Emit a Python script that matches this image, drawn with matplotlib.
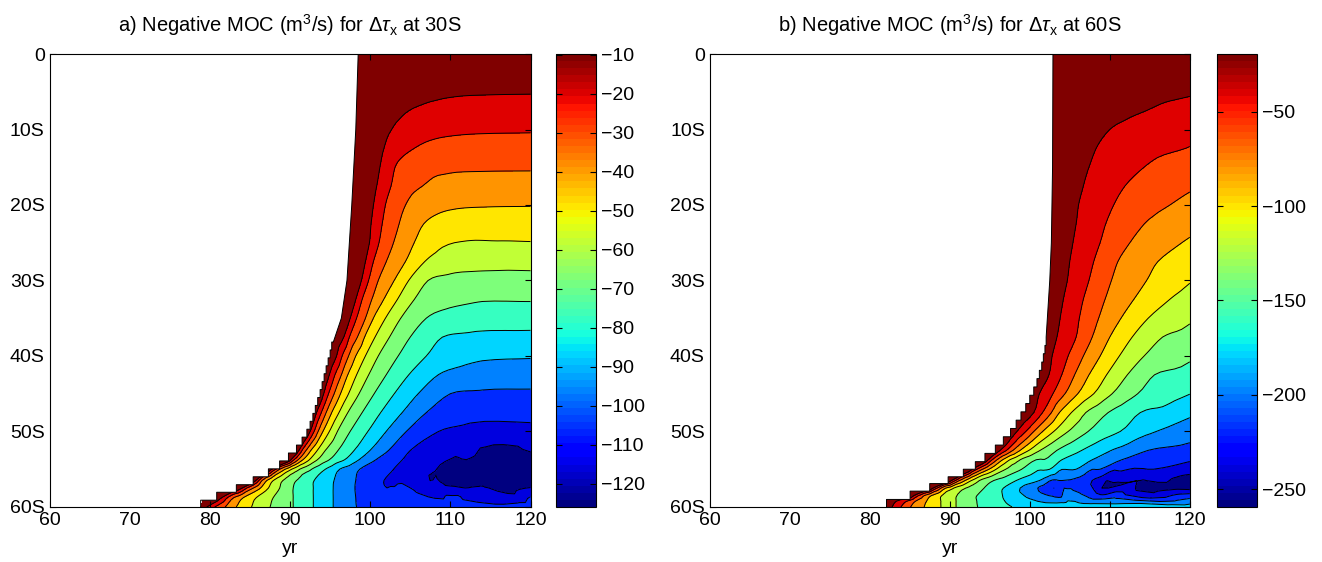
import numpy as np
import matplotlib
matplotlib.use("Agg")
import matplotlib.pyplot as plt
import matplotlib.tri as mtri
from matplotlib.cm import ScalarMappable
from matplotlib.colors import Normalize

plt.rcParams.update({
    "font.family": ["Liberation Sans", "DejaVu Sans"],
    "font.size": 14,
    "mathtext.fontset": "custom",
    "mathtext.rm": "Liberation Sans",
    "mathtext.it": "Liberation Sans:italic",
    "axes.linewidth": 0.8,
    "xtick.direction": "in",
    "ytick.direction": "in",
    "xtick.top": True,
    "ytick.right": True,
    "xtick.major.size": 4,
    "ytick.major.size": 4,
})

N_BANDS = 13

# ---- panel a: dtau_x at 30S ----
# each latitude row is sampled at (year, value) points read off the figure
LAT_A = [0, 5, 7.5, 10, 12.5, 15, 17.5, 20, 22.5, 25, 27.5, 30, 32.5, 35, 37.5,
         40, 42.5, 45, 47.5, 50, 52.5, 53.75, 55, 56.5, 57.5, 58.75, 60]
YR_A = [
    [98.5, 105, 112, 120],
    [98.4, 100, 102, 104, 106, 108, 110, 114, 120],
    [98.3, 100, 102, 104.8, 108, 112, 120],
    [98.2, 100, 102, 104, 106, 108, 110, 114, 120],
    [98.05, 100, 101.7, 103.5, 105.5, 108, 112, 120],
    [97.9, 99.5, 101.2, 102, 103.1, 104, 106, 108, 110, 114, 120],
    [97.75, 99.3, 100.8, 102.6, 104.5, 106.5, 109, 113, 120],
    [97.6, 99, 100.4, 101.9, 103, 104.4, 106, 108, 110, 114, 120],
    [97.45, 100.1, 101.5, 103.6, 105, 106.7, 109, 113, 120],
    [97.3, 99.9, 101.1, 102.9, 104, 105.5, 107, 109, 112, 116, 120],
    [97.15, 99.4, 100.4, 102.0, 104.4, 106.8, 109, 113, 120],
    [97.0, 98.9, 99.8, 101.0, 103.0, 104.8, 107.2, 110, 114, 120],
    [96.75, 98.2, 99.0, 100.2, 101.7, 103.4, 105.5, 108, 112, 120],
    [96.4, 97.5, 98.3, 99.4, 100.4, 101.9, 103.8, 107.0, 110, 114, 120],
    [95.65, 96.7, 97.4, 98.4, 99.3, 100.6, 102.4, 105.0, 109, 113, 120],
    [95.0, 95.8, 96.5, 97.3, 98.2, 99.4, 101.0, 103.5, 107, 110, 114, 120],
    [94.25, 94.9, 95.6, 96.4, 97.2, 98.3, 99.8, 102.0, 104.8, 108.5, 112, 120],
    [93.7, 94.2, 94.8, 95.5, 96.3, 97.3, 98.6, 100.5, 103.0, 106.0, 110.0, 114, 120],
    [92.85, 93.3, 93.9, 94.5, 95.2, 96.1, 97.2, 99.0, 101.3, 104.0, 107.0, 111, 120],
    [92.1, 92.5, 93.0, 93.5, 94.1, 94.9, 95.9, 97.5, 99.7, 102.0, 104.5, 108.5, 112, 120],
    [90.8, 91.1, 91.5, 92.0, 92.6, 93.4, 94.4, 96.0, 98.0, 100.0, 102.3, 105.0, 110, 120],
    [89.8, 90.1, 90.5, 91.0, 91.6, 92.4, 93.4, 94.9, 96.8, 98.6, 100.7, 104.0, 108, 112, 120],
    [87.3, 87.7, 88.2, 88.7, 89.4, 90.2, 91.2, 92.7, 94.4, 96.2, 98.7, 102.9, 108.3, 112, 116, 120],
    [85.4, 85.7, 86.1, 86.5, 87.1, 87.9, 89.1, 90.8, 93.0, 95.5, 98.2, 101.7, 107.5, 112, 116, 120],
    [83.3, 84.0, 84.6, 85.4, 86.3, 87.3, 88.7, 90.4, 92.9, 95.4, 98.1, 102.1, 108, 114, 120],
    [80.85, 81.5, 82.2, 83.0, 84.2, 85.8, 87.9, 90.4, 92.9, 95.4, 98.2, 105, 110, 120],
    [78.85, 79.6, 80.6, 81.9, 83.3, 85.2, 87.5, 90.4, 92.9, 95.4, 98.3, 104, 110, 120],
]
MOC_A = [
    [-9.9, -10.2, -10.4, -10.5],
    [-11, -11.5, -12.5, -14, -15.8, -16.8, -17.5, -18.0, -18.2],
    [-11.5, -13, -15.5, -18.7, -21.0, -22.2, -22.6],
    [-12, -14.5, -17.5, -21, -23.8, -25.3, -26.1, -26.7, -26.9],
    [-11.5, -15, -18.7, -24, -27.7, -30, -31, -31.3],
    [-11.5, -14.5, -18.7, -22, -27.7, -30.5, -33.5, -34.8, -35.3, -35.6, -35.7],
    [-11.5, -15, -18.7, -27.7, -33.5, -36.6, -39, -40.2, -40.5],
    [-11.5, -15, -18.7, -27.7, -32.5, -36.6, -40.5, -43, -44.3, -45.0, -45.2],
    [-11.5, -18.7, -27.7, -36.6, -41.5, -45.6, -48.5, -50.0, -50.2],
    [-11.5, -18.7, -27.7, -36.6, -40.5, -45.6, -49.5, -53.3, -55.0, -55.0, -54.8],
    [-11.5, -18.7, -27.7, -36.6, -45.6, -54.5, -58.5, -60.5, -60.8],
    [-11.5, -18.7, -27.7, -36.6, -45.6, -54.5, -63.4, -65.5, -66.3, -66.2],
    [-11.5, -18.7, -27.7, -36.6, -45.6, -54.5, -63.4, -68.5, -71.0, -71.7],
    [-11.5, -18.7, -27.7, -36.6, -45.6, -54.5, -63.4, -72.4, -75.5, -77.3, -77.6],
    [-11.5, -18.7, -27.7, -36.6, -45.6, -54.5, -63.4, -72.4, -81.3, -83.0, -83.4],
    [-11.5, -18.7, -27.7, -36.6, -45.6, -54.5, -63.4, -72.4, -81.3, -86.0, -88.8, -89.5],
    [-11.5, -18.7, -27.7, -36.6, -45.6, -54.5, -63.4, -72.4, -81.3, -90.3, -93.5, -95.0],
    [-11.5, -18.7, -27.7, -36.6, -45.6, -54.5, -63.4, -72.4, -81.3, -90.3, -99.2, -100.3, -100.5],
    [-11.5, -18.7, -27.7, -36.6, -45.6, -54.5, -63.4, -72.4, -81.3, -90.3, -99.2, -104.0, -105.5],
    [-11.5, -18.7, -27.7, -36.6, -45.6, -54.5, -63.4, -72.4, -81.3, -90.3, -99.2, -108.1, -110.3, -110.6],
    [-11.5, -18.7, -27.7, -36.6, -45.6, -54.5, -63.4, -72.4, -81.3, -90.3, -99.2, -108.1, -114.5, -116.5],
    [-11.5, -18.7, -27.7, -36.6, -45.6, -54.5, -63.4, -72.4, -81.3, -90.3, -99.2, -108.1, -114, -117.1, -120.5],
    [-11.5, -18.7, -27.7, -36.6, -45.6, -54.5, -63.4, -72.4, -81.3, -90.3, -99.2, -108.1, -117.1, -122, -125, -124.5],
    [-11.5, -18.7, -27.7, -36.6, -45.6, -54.5, -63.4, -72.4, -81.3, -90.3, -99.2, -108.1, -117.1, -122.5, -125.5, -124.5],
    [-11.5, -18.7, -27.7, -36.6, -45.6, -54.5, -63.4, -72.4, -81.3, -90.3, -99.2, -108.1, -114, -116, -116.5],
    [-11.5, -18.7, -27.7, -36.6, -45.6, -54.5, -63.4, -72.4, -81.3, -90.3, -99.2, -104.5, -106.5, -107.5],
    [-11.5, -18.7, -27.7, -36.6, -45.6, -54.5, -63.4, -72.4, -81.3, -90.3, -99.2, -102.5, -104, -104],
]
RANGE_A = (-126.0, -9.8)
# arrival front: smooth part, then the staircase of the model grid
FRONT_LAT_A = [0, 10, 20, 30, 35, 38.15]
FRONT_YR_A = [98.5, 98.2, 97.7, 97.1, 96.4, 95.4]
STEP_LAT_A = [38.15, 39.2, 40.25, 41.3, 42.35, 43.4, 44.45, 45.5, 46.55, 47.6, 48.65,
              49.7, 50.75, 51.8, 52.85, 53.9, 54.95, 56.0, 57.05, 58.05, 59.1, 60]
STEP_YR_A = [95.2, 95.0, 94.75, 94.5, 94.25, 94.0, 93.75, 93.45, 93.15, 92.85,
             92.5, 92.1, 91.5, 90.8, 89.8, 88.7, 87.3, 85.4, 83.3, 80.85, 78.85]
CTICKS_A = [-120, -110, -100, -90, -80, -70, -60, -50, -40, -30, -20, -10]

# ---- panel b: dtau_x at 60S ----
LAT_B = [0, 2.5, 5, 7.5, 10, 12.5, 15, 17.5, 20, 22.5, 25, 27.5, 30, 32.5, 35, 37.5,
         40, 42.5, 45, 47.5, 50, 52.5, 53.75, 55, 56.5, 57.5, 58.5, 59.25, 60]
YR_B = [
    [102.9, 110, 120],
    [102.9, 110, 115, 120],
    [102.9, 106, 110, 114, 117, 120],
    [102.9, 106, 110, 114.6, 117, 120],
    [102.9, 106, 110, 114, 117, 120],
    [102.9, 105, 108.3, 111, 115, 119.5, 120],
    [102.85, 105, 107.4, 110, 114.3, 117, 120],
    [102.8, 104.5, 106.7, 109, 111.9, 116, 120],
    [102.8, 104.5, 106.1, 108.3, 110.5, 114, 117.5, 120],
    [102.75, 105.8, 109.5, 114.3, 117, 120],
    [102.7, 105.4, 108.8, 112.5, 116, 119, 120],
    [102.6, 105.0, 108.0, 111.0, 116.0, 120],
    [102.5, 104.7, 107.4, 110.2, 114.6, 117.5, 120],
    [102.35, 104.2, 106.7, 109.4, 113.0, 117.5, 120],
    [102.2, 103.8, 106.2, 108.6, 111.4, 114.8, 117.5, 120],
    [102.0, 103.4, 105.8, 107.8, 110.0, 112.8, 116.6, 120],
    [101.7, 102.8, 104.8, 106.7, 108.8, 111.2, 114.3, 117.5, 120],
    [101.2, 102.4, 104.0, 105.6, 107.4, 109.6, 112.2, 115.6, 120],
    [100.2, 101.2, 102.9, 104.4, 106.0, 108.0, 110.3, 113.5, 117, 120],
    [98.9, 100.5, 101.6, 102.7, 103.7, 105.2, 107.0, 109.8, 113.8, 120],
    [97.5, 98.4, 99.5, 100.5, 101.6, 103.0, 104.8, 107.3, 111.3, 115.8, 120],
    [95.7, 96.3, 97.1, 97.9, 98.8, 99.9, 101.3, 103.4, 106.5, 110.2, 114.8, 120],
    [94.4, 94.8, 95.3, 95.9, 96.6, 97.5, 98.8, 100.8, 104.0, 107.8, 111.5, 120],
    [92.4, 92.8, 93.4, 94.1, 94.9, 95.8, 97.0, 99.0, 102.5, 105.8, 108.8, 115.5, 120],
    [89.8, 90.2, 90.7, 91.2, 91.9, 92.7, 93.7, 95.5, 98.3, 101.2, 104.0, 107.8, 113.5, 120],
    [87.5, 87.9, 88.4, 88.9, 89.5, 90.5, 92.0, 94.3, 96.7, 98.8, 101.0, 103.0, 109, 114, 120],
    [85.05, 85.5, 86.1, 86.8, 87.7, 89.0, 90.9, 93.4, 96.6, 99.3, 102.4, 108, 120],
    [82.1, 83.3, 84.6, 85.7, 87.1, 88.9, 90.8, 93.4, 96.9, 101, 110, 120],
    [82.1, 82.8, 83.9, 85.1, 86.8, 88.9, 90.8, 93.5, 97.8, 105, 120],
]
MOC_B = [
    [-19.4, -19.6, -19.8],
    [-20, -23.5, -26, -28],
    [-20.5, -23.5, -28, -32, -34.5, -36],
    [-21, -25.5, -32, -37.8, -40.5, -43],
    [-21, -27, -37.8, -44, -47.5, -50],
    [-21, -25, -37.8, -45, -51.5, -56.3, -57],
    [-21, -28, -37.8, -45.5, -56.3, -61.5, -65.5],
    [-21, -27, -37.8, -47, -56.3, -66.5, -72.5],
    [-21, -29, -37.8, -47, -56.3, -67, -74.7, -80],
    [-21, -37.8, -56.3, -74.7, -81.5, -87.5],
    [-21, -37.8, -56.3, -74.7, -84.5, -93.2, -95.5],
    [-21, -37.8, -56.3, -74.7, -93.2, -103],
    [-21, -37.8, -56.3, -74.7, -93.2, -103, -110.5],
    [-21, -37.8, -56.3, -74.7, -93.2, -111.7, -119],
    [-21, -37.8, -56.3, -74.7, -93.2, -111.7, -120.5, -127.5],
    [-21, -37.8, -56.3, -74.7, -93.2, -111.7, -130.2, -136.5],
    [-21, -37.8, -56.3, -74.7, -93.2, -111.7, -130.2, -139, -145.5],
    [-21, -37.8, -56.3, -74.7, -93.2, -111.7, -130.2, -148.7, -156],
    [-21, -37.8, -56.3, -74.7, -93.2, -111.7, -130.2, -148.7, -159, -166.8],
    [-21, -37.8, -56.3, -74.7, -93.2, -111.7, -130.2, -148.7, -167.1, -182],
    [-21, -37.8, -56.3, -74.7, -93.2, -111.7, -130.2, -148.7, -167.1, -185.6, -195],
    [-21, -37.8, -56.3, -74.7, -93.2, -111.7, -130.2, -148.7, -167.1, -185.6, -204.1, -211],
    [-21, -37.8, -56.3, -74.7, -93.2, -111.7, -130.2, -148.7, -167.1, -185.6, -204.1, -221],
    [-21, -37.8, -56.3, -74.7, -93.2, -111.7, -130.2, -148.7, -167.1, -185.6, -204.1, -222.6, -230],
    [-21, -37.8, -56.3, -74.7, -93.2, -111.7, -130.2, -148.7, -167.1, -185.6, -204.1, -222.6, -241.0, -252],
    [-21, -37.8, -56.3, -74.7, -93.2, -111.7, -130.2, -148.7, -167.1, -185.6, -204.1, -222.6, -241.0, -247, -246],
    [-21, -37.8, -56.3, -74.7, -93.2, -111.7, -130.2, -148.7, -167.1, -185.6, -204.1, -213, -214],
    [-21, -37.8, -56.3, -74.7, -93.2, -111.7, -130.2, -148.7, -167.1, -185.6, -193, -195],
    [-21, -37.8, -56.3, -74.7, -93.2, -111.7, -130.2, -148.7, -167.1, -174, -176],
]
RANGE_B = (-259.5, -19.3)
FRONT_LAT_B = [0, 15, 25, 30, 35, 37.5]
FRONT_YR_B = [102.9, 102.85, 102.7, 102.5, 102.2, 102.05]
STEP_LAT_B = [37.5, 38.6, 39.7, 40.8, 41.9, 43.0, 44.1, 45.2, 46.3, 47.4, 48.5,
              49.6, 50.7, 51.8, 52.9, 54.0, 55.0, 56.0, 56.9, 57.9, 59.0, 60]
STEP_YR_B = [102.05, 101.9, 101.7, 101.5, 101.2, 100.9, 100.5, 100.0, 99.5, 98.9,
             98.3, 97.6, 96.7, 95.7, 94.4, 93.2, 91.7, 89.8, 87.5, 85.05, 82.1]
CTICKS_B = [-250, -200, -150, -100, -50]

TITLES = [r"a) Negative MOC (m$^3$/s) for $\Delta\tau_\mathrm{x}$ at 30S",
          r"b) Negative MOC (m$^3$/s) for $\Delta\tau_\mathrm{x}$ at 60S"]
LAT_TICKS = [0, 10, 20, 30, 40, 50, 60]
LAT_LABELS = ["0", "10S", "20S", "30S", "40S", "50S", "60S"]
YR_TICKS = [60, 70, 80, 90, 100, 110, 120]


def draw_panel(ax, cax, lats, yrs, vals, front_lat, front_yr, step_lat, step_yr,
               vrange, cticks, title):
    x = np.concatenate([np.asarray(r, float) for r in yrs])
    y = np.concatenate([np.full(len(r), lat, float) for lat, r in zip(lats, yrs)])
    z = np.concatenate([np.asarray(r, float) for r in vals])
    tri = mtri.Triangulation(x, y)

    vmin, vmax = vrange
    # smooth the read samples with matplotlib's cubic triangle interpolator
    interp = mtri.CubicTriInterpolator(tri, z, kind="geom")
    tri_f, z_f = mtri.UniformTriRefiner(tri).refine_field(z, triinterpolator=interp, subdiv=2)
    z_f = np.clip(z_f, vmin, vmax)

    levels = np.linspace(vmin, vmax, N_BANDS + 1)
    fill_levels = levels.copy()
    fill_levels[0] -= 1.0
    fill_levels[-1] += 1.0
    band_colors = plt.get_cmap("jet")(np.linspace(0, 1, N_BANDS))
    ax.tricontourf(tri_f, z_f, levels=fill_levels, colors=band_colors, zorder=1)
    ax.tricontour(tri_f, z_f, levels=levels[1:-1], colors="k", linewidths=0.7,
                  linestyles="solid", zorder=1.5)

    # blank out the region the signal has not reached yet
    ex = list(front_yr)
    ey = list(front_lat)
    for i, yr in enumerate(step_yr):
        ex += [yr, yr]
        ey += [step_lat[i], step_lat[i + 1]]
    ax.fill([60] + ex + [60], [0] + ey + [60], color="white", lw=0, zorder=2)
    ax.plot(ex, ey, color="k", lw=0.7, zorder=2.1)

    ax.set_xlim(60, 120)
    ax.set_ylim(60, 0)
    ax.set_xticks(YR_TICKS)
    ax.set_yticks(LAT_TICKS)
    ax.set_yticklabels(LAT_LABELS)
    ax.set_xlabel("yr", labelpad=8)
    ax.set_title(title, fontsize=14.5, pad=16)

    sm = ScalarMappable(norm=Normalize(vmin, vmax), cmap=plt.get_cmap("jet", 64))
    cb = plt.colorbar(sm, cax=cax, ticks=cticks)
    cb.outline.set_linewidth(0.8)
    cax.tick_params(direction="in", left=True, right=True, labelleft=False,
                    labelright=True, length=4)


fig = plt.figure(figsize=(13.22, 5.62), dpi=100)
ax_a = fig.add_axes([0.0375, 0.0979, 0.3638, 0.806])
cax_a = fig.add_axes([0.4206, 0.0979, 0.0303, 0.806])
ax_b = fig.add_axes([0.5368, 0.0979, 0.3632, 0.806])
cax_b = fig.add_axes([0.9205, 0.0979, 0.0303, 0.806])

draw_panel(ax_a, cax_a, LAT_A, YR_A, MOC_A, FRONT_LAT_A, FRONT_YR_A, STEP_LAT_A, STEP_YR_A,
           RANGE_A, CTICKS_A, TITLES[0])
draw_panel(ax_b, cax_b, LAT_B, YR_B, MOC_B, FRONT_LAT_B, FRONT_YR_B, STEP_LAT_B, STEP_YR_B,
           RANGE_B, CTICKS_B, TITLES[1])

fig.savefig("out.png", dpi=100)
